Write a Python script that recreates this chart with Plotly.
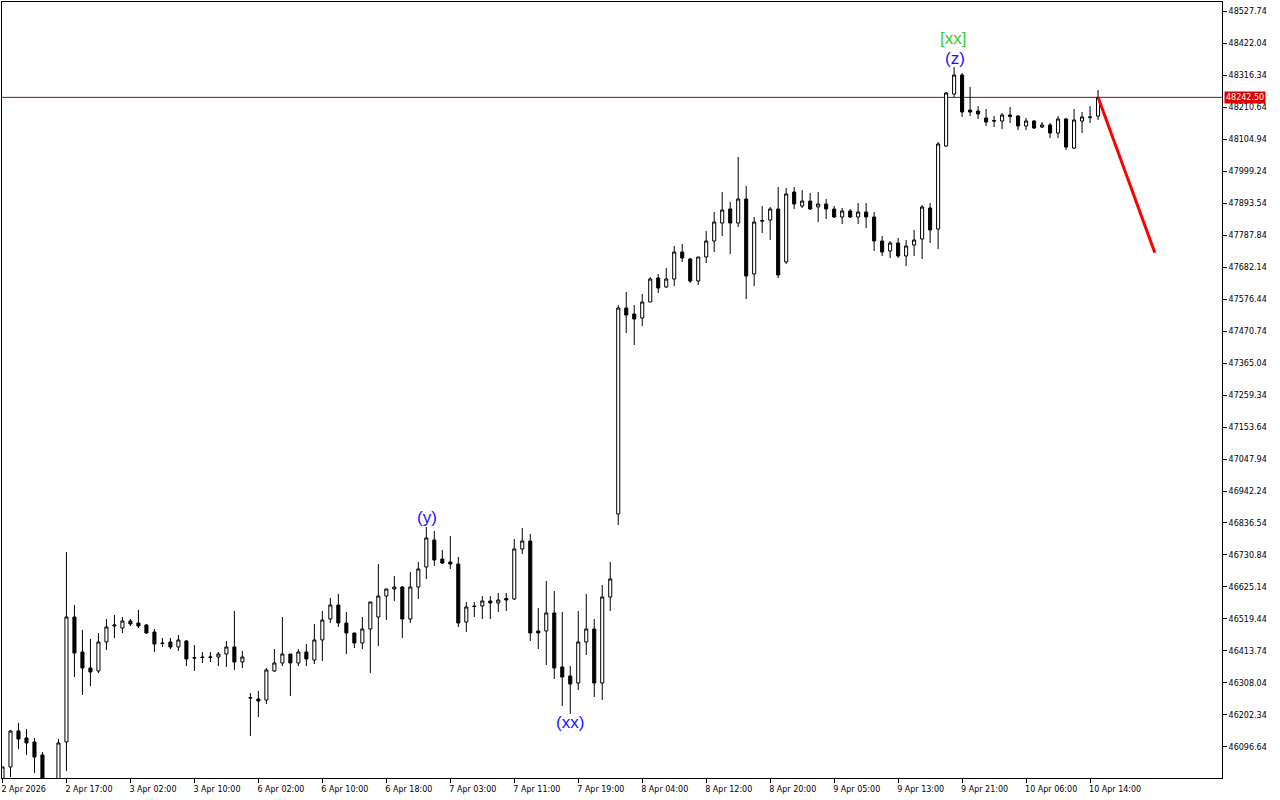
import plotly.graph_objects as go

# ---- data (hourly candles, index 0 = 2 Apr 2026 09:00) ----
opens = [45971.1, 46030.6, 46149.5, 46126.4, 46113.2, 46070.2, 45938.1, 45954.6, 46113.2, 46526.0,
         46410.4, 46357.6, 46347.7, 46443.5, 46496.3, 46489.7, 46512.8, 46506.2, 46499.6, 46476.5,
         46440.2, 46443.5, 46427.0, 46446.8, 46392.3, 46393.9, 46392.3, 46393.9, 46403.8, 46427.0,
         46377.4, 46260.1, 46255.2, 46251.9, 46347.7, 46374.1, 46403.8, 46374.1, 46410.4, 46384.0,
         46450.1, 46519.4, 46565.7, 46506.2, 46473.2, 46440.2, 46486.4, 46526.0, 46595.4, 46618.5,
         46625.1, 46519.4, 46625.1, 46691.2, 46780.4, 46717.6, 46707.7, 46701.1, 46509.5, 46562.4,
         46562.4, 46578.9, 46572.3, 46587.2, 46585.5, 46750.7, 46777.1, 46479.8, 46479.8, 46539.3,
         46360.9, 46331.2, 46308.0, 46443.5, 46486.4, 46308.0, 46592.1, 46866.3, 47546.7, 47526.9,
         47513.7, 47566.5, 47645.8, 47616.1, 47642.5, 47731.7, 47708.6, 47635.9, 47715.2, 47768.0,
         47827.5, 47873.7, 47827.5, 47906.8, 47659.0, 47835.7, 47837.4, 47873.7, 47698.7, 47929.9,
         47883.6, 47900.1, 47880.3, 47890.2, 47873.7, 47847.3, 47867.1, 47847.3, 47863.8, 47847.3,
         47768.0, 47735.0, 47761.4, 47718.5, 47754.8, 47774.6, 47877.0, 47807.7, 48081.8, 48253.6,
         48316.3, 48200.7, 48197.4, 48174.3, 48166.0, 48164.4, 48179.3, 48180.9, 48147.9, 48164.4,
         48144.6, 48151.2, 48124.8, 48171.0, 48075.2, 48164.4, 48176.0, 48180.9]
highs = [46030.6, 46152.8, 46175.9, 46156.1, 46126.4, 46080.1, 45981.0, 46123.1, 46740.7, 46565.7,
         46483.1, 46453.4, 46473.2, 46519.4, 46532.6, 46526.0, 46519.4, 46549.2, 46502.9, 46486.4,
         46456.7, 46456.7, 46466.6, 46450.1, 46433.6, 46410.4, 46410.4, 46410.4, 46446.8, 46545.9,
         46413.7, 46275.0, 46281.6, 46357.6, 46420.3, 46526.0, 46403.8, 46420.3, 46436.9, 46502.9,
         46545.9, 46588.8, 46602.0, 46542.6, 46473.2, 46526.0, 46575.6, 46701.1, 46618.5, 46661.5,
         46628.4, 46674.7, 46707.7, 46823.3, 46810.1, 46747.4, 46793.6, 46724.2, 46575.6, 46575.6,
         46595.4, 46595.4, 46605.3, 46605.3, 46783.7, 46820.0, 46800.2, 46555.8, 46645.0, 46611.9,
         46542.6, 46364.2, 46545.9, 46602.0, 46519.4, 46631.7, 46707.7, 47556.6, 47599.6, 47556.6,
         47593.0, 47649.1, 47659.0, 47678.8, 47751.5, 47758.1, 47711.9, 47715.2, 47801.0, 47863.8,
         47929.9, 47896.8, 48045.5, 47949.7, 47847.3, 47883.6, 47880.3, 47946.4, 47943.1, 47946.4,
         47936.5, 47926.6, 47929.9, 47906.8, 47883.6, 47877.0, 47873.7, 47893.5, 47893.5, 47863.8,
         47784.5, 47768.0, 47777.9, 47771.3, 47804.4, 47886.9, 47893.5, 48095.0, 48260.2, 48342.8,
         48322.9, 48276.7, 48213.9, 48204.0, 48180.9, 48190.8, 48210.6, 48184.2, 48174.3, 48167.7,
         48161.1, 48157.8, 48180.9, 48174.3, 48204.0, 48194.1, 48213.9, 48266.8]
lows = [45954.6, 45997.5, 46090.0, 46070.2, 46010.8, 45905.1, 45872.0, 45921.6, 46017.4, 46327.9,
        46268.4, 46298.1, 46341.1, 46417.0, 46456.7, 46473.2, 46496.3, 46489.7, 46469.9, 46410.4,
        46427.0, 46420.3, 46413.7, 46364.2, 46347.7, 46374.1, 46377.4, 46364.2, 46360.9, 46351.0,
        46357.6, 46133.0, 46195.7, 46238.7, 46344.4, 46364.2, 46265.1, 46364.2, 46364.2, 46370.8,
        46380.7, 46506.2, 46493.0, 46403.8, 46423.6, 46420.3, 46341.1, 46430.3, 46516.1, 46578.9,
        46456.7, 46506.2, 46585.5, 46651.6, 46694.5, 46701.1, 46684.6, 46493.0, 46476.5, 46526.0,
        46519.4, 46519.4, 46542.6, 46545.9, 46582.2, 46734.1, 46446.8, 46420.3, 46367.5, 46321.3,
        46232.1, 46205.6, 46284.9, 46400.5, 46261.8, 46251.9, 46545.9, 46829.9, 47464.1, 47424.5,
        47487.3, 47566.5, 47596.3, 47612.8, 47619.4, 47698.7, 47629.3, 47622.7, 47695.3, 47731.7,
        47784.5, 47725.1, 47814.3, 47576.4, 47619.4, 47794.4, 47771.3, 47645.8, 47692.1, 47873.7,
        47877.0, 47870.4, 47830.8, 47840.7, 47844.0, 47824.2, 47844.0, 47824.2, 47811.0, 47735.0,
        47718.5, 47711.9, 47711.9, 47685.4, 47718.5, 47708.6, 47761.4, 47741.6, 48078.5, 48243.7,
        48177.6, 48180.9, 48171.0, 48147.9, 48144.6, 48138.0, 48157.8, 48134.7, 48134.7, 48138.0,
        48141.3, 48108.2, 48108.2, 48068.6, 48071.9, 48124.8, 48157.8, 48167.7]
closes = [46030.6, 46149.5, 46123.1, 46109.9, 46063.6, 45938.1, 45921.6, 46109.9, 46526.0, 46407.1,
          46357.6, 46344.4, 46443.5, 46493.0, 46499.6, 46512.8, 46502.9, 46496.3, 46473.2, 46436.9,
          46438.5, 46427.0, 46450.1, 46387.3, 46390.6, 46392.3, 46393.9, 46403.8, 46427.0, 46377.4,
          46393.9, 46258.5, 46248.6, 46351.0, 46374.1, 46403.8, 46374.1, 46410.4, 46387.3, 46450.1,
          46516.1, 46565.7, 46506.2, 46473.2, 46440.2, 46486.4, 46575.6, 46595.4, 46618.5, 46625.1,
          46519.4, 46625.1, 46684.6, 46787.0, 46714.3, 46704.4, 46701.1, 46506.2, 46559.1, 46560.7,
          46578.9, 46572.3, 46582.2, 46582.2, 46750.7, 46777.1, 46473.2, 46473.2, 46539.3, 46357.6,
          46327.9, 46304.7, 46443.5, 46486.4, 46308.0, 46592.1, 46651.6, 47546.7, 47523.6, 47510.4,
          47566.5, 47642.5, 47612.8, 47642.5, 47731.7, 47711.9, 47635.9, 47715.2, 47768.0, 47830.8,
          47870.4, 47827.5, 47906.8, 47652.4, 47830.8, 47834.1, 47873.7, 47655.7, 47923.3, 47890.2,
          47900.1, 47873.7, 47890.2, 47873.7, 47847.3, 47867.1, 47847.3, 47863.8, 47847.3, 47768.0,
          47731.7, 47761.4, 47718.5, 47751.5, 47771.3, 47880.3, 47804.4, 48088.4, 48256.9, 48316.3,
          48194.1, 48194.1, 48187.5, 48161.1, 48164.4, 48184.2, 48184.2, 48147.9, 48164.4, 48141.3,
          48151.2, 48124.8, 48171.0, 48078.5, 48167.7, 48177.6, 48177.6, 48242.5]

x_tick_labels = ["2 Apr 2026", "2 Apr 17:00", "3 Apr 02:00", "3 Apr 10:00", "6 Apr 02:00",
                 "6 Apr 10:00", "6 Apr 18:00", "7 Apr 03:00", "7 Apr 11:00", "7 Apr 19:00",
                 "8 Apr 04:00", "8 Apr 12:00", "8 Apr 20:00", "9 Apr 05:00", "9 Apr 13:00",
                 "9 Apr 21:00", "10 Apr 06:00", "10 Apr 14:00"]
y_tick_values = [48527.74, 48422.04, 48316.34, 48210.64, 48104.94, 47999.24, 47893.54, 47787.84,
                 47682.14, 47576.44, 47470.74, 47365.04, 47259.34, 47153.64, 47047.94, 46942.24,
                 46836.54, 46730.84, 46625.14, 46519.44, 46413.74, 46308.04, 46202.34, 46096.64]

current_price = 48242.50
forecast_x = [137, 144.1]
forecast_y = [48242.5, 47729.0]

wave_labels = ["(y)", "(xx)", "(z)", "[xx]"]
wave_x = [53.1, 71.0, 119.1, 118.9]
wave_y = [46853.1, 46175.9, 48372.5, 48438.5]
wave_colors = ["#1414ff", "#1414ff", "#1414ff", "#33cc33"]

assert len(opens) == len(highs) == len(lows) == len(closes) == 138
idx = list(range(len(opens)))

fig = go.Figure()
fig.add_trace(go.Candlestick(
    x=idx, open=opens, high=highs, low=lows, close=closes,
    increasing=dict(line=dict(color="black", width=1), fillcolor="white"),
    decreasing=dict(line=dict(color="black", width=1), fillcolor="black"),
    whiskerwidth=0, showlegend=False, hoverinfo="skip",
))
fig.add_trace(go.Scatter(
    x=forecast_x, y=forecast_y, mode="lines",
    line=dict(color="#ff0000", width=3), showlegend=False, hoverinfo="skip",
))

fig.add_shape(type="line", xref="paper", x0=0, x1=1, yref="y", y0=current_price, y1=current_price,
              line=dict(color="#7a1010", width=1), layer="below")

for t, x, y, c in zip(wave_labels, wave_x, wave_y, wave_colors):
    fig.add_annotation(x=x, y=y, text=t, showarrow=False,
                       font=dict(family="Liberation Sans, Arial", size=17, color=c))

fig.add_annotation(xref="paper", x=1, xanchor="left", xshift=2, y=current_price, yref="y",
                   text=f"{current_price:.2f}", showarrow=False, bgcolor="#dd0000",
                   borderpad=1, font=dict(family="DejaVu Sans", size=8, color="white"))

fig.update_layout(
    width=1280, height=800,
    margin=dict(l=2, r=58, t=2, b=22),
    paper_bgcolor="white", plot_bgcolor="white",
    boxgap=0.45,
    xaxis=dict(
        range=[-0.06, 152.5], rangeslider=dict(visible=False),
        tickmode="array", tickvals=[i * 8 for i in range(len(x_tick_labels))], ticktext=x_tick_labels,
        ticks="outside", ticklen=4, tickcolor="black", ticklabelposition="outside right",
        ticklabelstandoff=3, ticklabelshift=-2,
        showgrid=False, zeroline=False, showline=True, linecolor="black", linewidth=1, mirror=True,
        tickfont=dict(family="DejaVu Sans", size=8, color="black"),
    ),
    yaxis=dict(
        range=[45994.2, 48557.5], side="right",
        tickmode="array", tickvals=y_tick_values, ticktext=[f"{v:.2f}" for v in y_tick_values],
        ticks="outside", ticklen=4, tickcolor="black",
        showgrid=False, zeroline=False, showline=True, linecolor="black", linewidth=1, mirror=True,
        tickfont=dict(family="DejaVu Sans", size=8, color="black"),
    ),
)

fig.write_html("out.html", config={"displayModeBar": False},
               post_script="document.body.style.margin='0px';")
